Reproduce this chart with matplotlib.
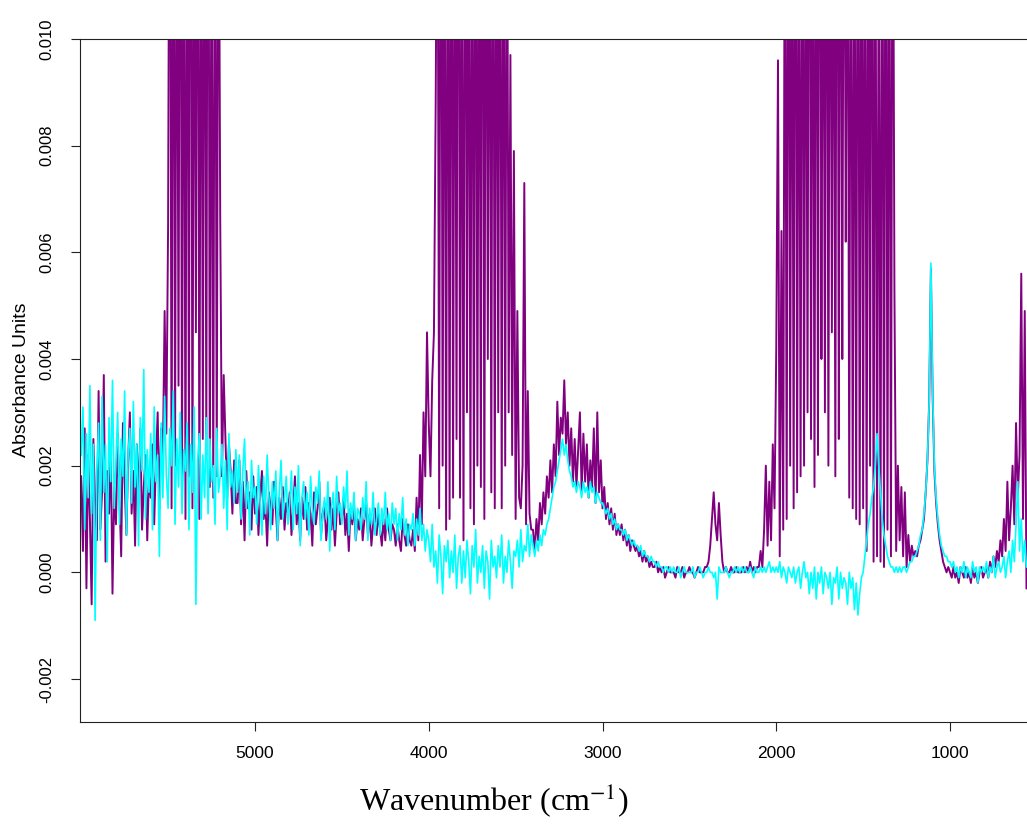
import numpy as np
import matplotlib
matplotlib.use('Agg')
import matplotlib.pyplot as plt

# wavenumber grid of both spectra (cm-1), 6000 -> 560 every 10 cm-1
wn_start, wn_stop, wn_step = 6000, 560, 10

# absorbance, in units of 1e-4, one row = 100 cm-1
purple_rows = [
    [18, 4, 27, -3, 22, 10, -6, 25, 13, 6],            # 6000
    [34, 8, 15, 37, 2, 19, 11, 24, -4, 16],            # 5900
    [9, 26, 14, 3, 28, 17, 7, 21, 30, 11],             # 5800
    [19, 5, 24, 13, 27, 8, 16, 22, 6, 18],             # 5700
    [14, 24, 9, 21, 30, 12, 27, 22, 49, 26],           # 5600
    [65, 170, 12, 160, 20, 150, 35, 180, 15, 150],     # 5500
    [10, 160, 18, 200, 12, 140, 45, 170, 10, 150],     # 5400
    [25, 160, 22, 190, 16, 130, 14, 160, 18, 150],     # 5300
    [66, 18, 37, 25, 14, 24, 19, 11, 21, 13],          # 5200
    [13, 21, 9, 17, 6, 19, 12, 15, 8, 18],             # 5100
    [11, 16, 7, 14, 19, 10, 13, 5, 15, 12],            # 5000
    [9, 17, 12, 6, 14, 10, 16, 8, 13, 11],             # 4900
    [15, 7, 12, 18, 9, 13, 6, 14, 10, 16],             # 4800
    [8, 13, 11, 5, 15, 9, 12, 17, 7, 11],              # 4700
    [13, 6, 10, 14, 8, 12, 5, 11, 15, 9],              # 4600
    [10, 14, 7, 11, 4, 12, 9, 13, 6, 10],              # 4500
    [8, 12, 6, 10, 13, 7, 11, 5, 9, 12],               # 4400
    [7, 11, 8, 5, 10, 6, 12, 8, 6, 9],                 # 4300
    [8, 5, 9, 6, 4, 10, 7, 5, 9, 6],                   # 4200
    [5, 8, 4, 14, 6, 22, 9, 30, 18, 45],               # 4100
    [28, 18, 36, 45, 88, 150, 12, 180, 20, 150],       # 4000
    [8, 160, 10, 170, 14, 150, 25, 190, 14, 140],      # 3900
    [6, 175, 30, 150, 12, 160, 9, 165, 20, 150],       # 3800
    [16, 185, 10, 160, 40, 150, 15, 170, 12, 150],     # 3700
    [30, 160, 12, 150, 20, 150, 30, 97, 22, 79],       # 3600
    [10, 49, 14, 12, 20, 73, 9, 34, 11, 8],            # 3500
    [8, 4, 10, 6, 13, 9, 15, 11, 18, 14],              # 3400
    [21, 15, 24, 18, 32, 22, 29, 26, 36, 24],          # 3300
    [30, 20, 27, 17, 25, 16, 23, 30, 15, 26],          # 3200
    [17, 24, 14, 21, 16, 27, 13, 30, 15, 21],          # 3100
    [12, 16, 10, 13, 9, 12, 8, 11, 7, 9],              # 3000
    [7, 9, 6, 8, 5, 7, 4, 6, 5, 4],                    # 2900
    [5, 3, 4, 2, 4, 2, 3, 1, 2, 1],                    # 2800
    [1, 2, 0, 1, 0, 1, -1, 0, 1, 0],                   # 2700
    [0, 0, -1, 1, 0, 0, 1, -1, 0, 0],                  # 2600
    [1, 0, 0, -1, 0, 1, 0, 0, 0, 1],                   # 2500
    [1, 2, 5, 10, 15, 9, 6, 13, 7, 2],                 # 2400
    [0, 1, 0, 0, 1, 0, 0, 1, 0, 0],                    # 2300
    [0, 1, 0, 1, 0, 2, 0, 1, 0, 1],                    # 2200
    [1, 4, 1, 8, 20, 5, 17, 6, 24, 12],                # 2100
    [42, 96, 3, 64, 8, 150, 10, 170, 20, 150],         # 2000
    [12, 180, 15, 140, 18, 160, 20, 150, 30, 190],     # 1900
    [25, 150, 16, 170, 22, 185, 40, 150, 30, 175],     # 1800
    [20, 160, 45, 150, 18, 190, 25, 170, 40, 160],     # 1700
    [62, 150, 14, 160, 12, 140, 10, 175, 9, 150],      # 1600
    [12, 165, 4, 150, 20, 180, 2, 150, 3, 130],        # 1500
    [2, 160, 1, 170, 8, 150, 3, 160, 53, 4],           # 1400
    [20, 6, 16, 3, 15, 1, 7, 2, 5, 3],                 # 1300
    [4, 3, 5, 6, 8, 10, 15, 21, 32, 57],               # 1200
    [33, 19, 13, 9, 6, 4, 2, 1, 0, 1],                 # 1100
    [0, -1, 1, -1, 0, -2, 1, 0, -1, 1],                # 1000
    [-1, 0, -2, 1, -1, 0, -2, 0, 1, -1],               # 900
    [0, 1, -1, 2, 0, 3, 1, 4, 2, 6],                   # 800
    [3, 10, 4, 17, 6, 12, 20, 9, 28, 14],              # 700
    [22, 56, 10, 49, -3],                              # 600
]

cyan_rows = [
    [22, 31, 8, 26, 14, 35, 11, 24, -9, 19],           # 6000
    [28, 6, 33, 15, 24, 2, 29, 17, 36, 12],            # 5900
    [21, 30, 9, 25, 18, 34, 7, 22, 27, 13],            # 5800
    [32, 16, 24, 5, 29, 19, 38, 10, 23, 15],           # 5700
    [26, 8, 31, 17, 22, 3, 28, 14, 33, 18],            # 5600
    [12, 27, 20, 34, 9, 25, 16, 30, 11, 23],           # 5500
    [19, 28, 8, 24, 15, 31, -6, 21, 26, 10],           # 5400
    [22, 14, 29, 11, 25, 17, 20, 9, 27, 15],           # 5300
    [18, 24, 12, 21, 8, 26, 16, 19, 13, 23],           # 5200
    [15, 22, 10, 19, 25, 12, 17, 7, 21, 14],           # 5100
    [16, 9, 20, 13, 7, 18, 11, 22, 14, 8],             # 5000
    [17, 12, 19, 6, 15, 21, 10, 14, 18, 9],            # 4900
    [13, 19, 8, 16, 11, 20, 5, 14, 17, 10],            # 4800
    [15, 7, 18, 12, 9, 16, 13, 19, 6, 11],             # 4700
    [14, 10, 17, 4, 12, 15, 8, 18, 11, 13],            # 4600
    [9, 16, 12, 19, 7, 13, 10, 15, 6, 12],             # 4500
    [11, 8, 14, 10, 17, 6, 12, 9, 15, 7],              # 4400
    [10, 13, 7, 12, 9, 15, 8, 11, 6, 13],              # 4300
    [9, 12, 6, 11, 8, 14, 7, 10, 5, 9],                # 4200
    [8, 11, 5, 10, 7, 12, 6, 9, 4, 8],                 # 4100
    [6, 2, 9, 1, 4, -2, 7, 3, -4, 5],                  # 4000
    [2, 6, -1, 4, 0, 7, -3, 3, 5, -2],                 # 3900
    [4, -1, 6, 2, -4, 5, 1, 8, -2, 3],                 # 3800
    [0, 5, -3, 4, 2, -5, 6, 1, 3, -1],                 # 3700
    [5, 1, 7, -2, 3, 0, 6, 2, -3, 4],                  # 3600
    [3, 6, 1, 8, 2, 5, 4, 9, 3, 7],                    # 3500
    [5, 3, 6, 4, 7, 5, 8, 7, 9, 10],                   # 3400
    [12, 14, 16, 17, 19, 21, 23, 25, 22, 24],          # 3300
    [21, 19, 18, 16, 17, 15, 17, 16, 14, 17],          # 3200
    [15, 16, 14, 17, 15, 16, 13, 15, 14, 13],          # 3100
    [13, 12, 11, 12, 10, 11, 9, 10, 8, 9],             # 3000
    [8, 8, 7, 8, 6, 7, 6, 5, 6, 5],                    # 2900
    [5, 4, 5, 3, 4, 3, 3, 2, 3, 2],                    # 2800
    [2, 1, 2, 1, 1, 0, 1, 1, 0, 1],                    # 2700
    [0, 1, 0, 0, 1, -1, 0, 1, 0, 0],                   # 2600
    [0, 0, 1, -1, 0, 0, 1, 0, -1, 0],                  # 2500
    [0, 1, 0, 0, -1, 0, -5, 1, 0, 0],                  # 2400
    [0, 1, 0, -1, 0, 0, 1, 0, 1, 0],                   # 2300
    [1, 0, 1, 0, 0, 1, 0, -1, 1, 0],                   # 2200
    [0, 1, 0, 1, 0, 1, 2, 0, 1, 0],                    # 2100
    [1, 0, 2, -1, 1, 0, -2, 1, 0, -1],                 # 2000
    [1, -2, 0, 1, -3, 0, 2, -1, 0, -4],                # 1900
    [0, -3, 1, -5, 0, -2, 1, -4, 0, -1],               # 1800
    [-3, 0, -6, -1, -2, 1, -5, 0, -3, -1],             # 1700
    [-2, -6, 0, -3, -1, -7, -2, -8, -4, -1],           # 1600
    [0, 3, 6, 9, 11, 14, 16, 20, 26, 20],              # 1500
    [15, 10, 7, 5, 3, 2, 1, 1, 0, 1],                  # 1400
    [0, 1, 0, 1, 1, 0, 1, 2, 2, 3],                    # 1300
    [3, 4, 5, 7, 8, 11, 15, 21, 32, 58],               # 1200
    [34, 20, 14, 10, 7, 5, 4, 3, 3, 2],                # 1100
    [2, 1, 2, 0, 1, -1, 1, 0, 2, -1],                  # 1000
    [1, 0, -1, 2, 0, 1, -2, 1, 0, 1],                  # 900
    [0, 2, -1, 1, 0, 3, -1, 1, 2, 0],                  # 800
    [1, 3, -1, 2, 4, 0, 6, 2, 9, 17],                  # 700
    [4, 10, 2, 6, 1],                                  # 600
]

x_ticks = [5000, 4000, 3000, 2000, 1000]
x_tick_labels = ["5000", "4000", "3000", "2000", "1000"]
y_ticks = [-0.002, 0.000, 0.002, 0.004, 0.006, 0.008, 0.010]
y_tick_labels = ["-0.002", "0.000", "0.002", "0.004", "0.006", "0.008", "0.010"]

wavenumber = np.arange(wn_start, wn_stop - 1, -wn_step)
purple = np.concatenate([np.array(r, float) for r in purple_rows]) * 1e-4
cyan = np.concatenate([np.array(r, float) for r in cyan_rows]) * 1e-4

plt.rcParams['font.family'] = ['Liberation Sans', 'DejaVu Sans']
plt.rcParams['mathtext.fontset'] = 'stix'

W, H = 1027, 840
fig = plt.figure(figsize=(W / 100, H / 100), dpi=100)
ax = fig.add_axes([80 / W, 118 / H, 947 / W, 683 / H])

ax.plot(wavenumber, purple, color='#800080', lw=1.4)
ax.plot(wavenumber, cyan, color='#00FFFF', lw=1.2)

ax.set_xlim(6007, 557)
ax.set_ylim(-0.002806, 0.010)

ax.spines['right'].set_visible(False)
for s in ['left', 'bottom', 'top']:
    ax.spines[s].set_linewidth(0.8)
    ax.spines[s].set_color('#222222')

ax.set_xticks(x_ticks)
ax.set_xticklabels(x_tick_labels)
ax.set_yticks(y_ticks)
ax.set_yticklabels(y_tick_labels, rotation=90, va='center')
ax.tick_params(axis='both', direction='out', length=6.5, width=0.8, color='#222222')
ax.tick_params(axis='x', labelsize=12.5, pad=11)
ax.tick_params(axis='y', labelsize=12, pad=12)

fig.text(494 / W, 1 - 800 / H, 'Wavenumber (cm$^{-1}$)', ha='center', va='center',
         fontsize=23, family='Liberation Serif')
fig.text(22 / W, 1 - 380 / H, 'Absorbance Units', rotation=90, ha='center', va='center',
         fontsize=14)

fig.savefig('out.png', dpi=100)
